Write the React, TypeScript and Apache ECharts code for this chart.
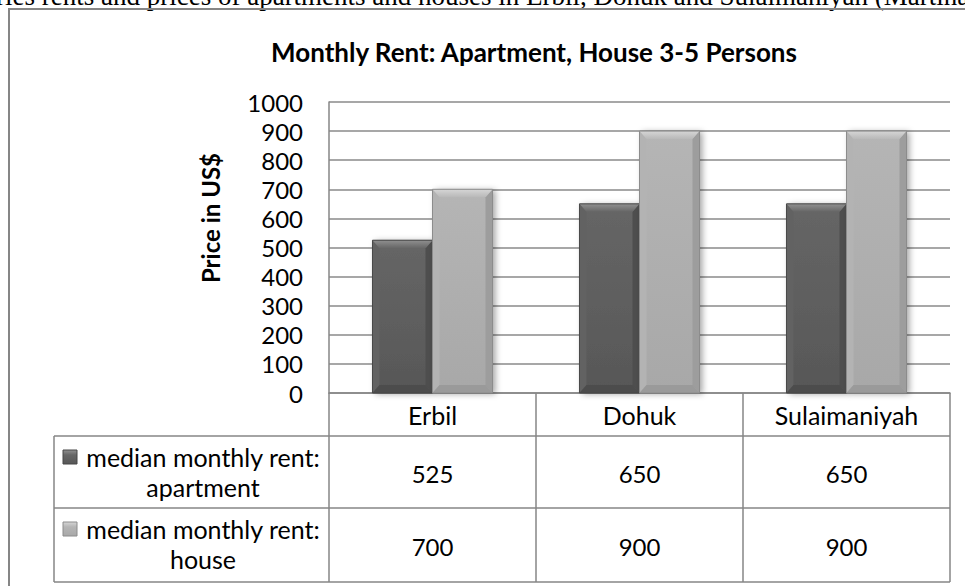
import React, { useEffect, useRef } from "react";
import * as echarts from "echarts";

const categories = ["Erbil", "Dohuk", "Sulaimaniyah"];
const apartmentRent = [525, 650, 650];
const houseRent = [700, 900, 900];
const seriesLabels = [
  ["median monthly rent:", "apartment"],
  ["median monthly rent:", "house"],
];
const yMin = 0;
const yMax = 1000;
const yStep = 100;
const chartTitle = "Monthly Rent: Apartment, House 3-5 Persons";
const yAxisTitle = "Price in US$";
const captionText =
  "ries rents and prices of apartments and houses in Erbil, Dohuk and Sulaimaniyah (Martina";

const FONT = "Lato, 'Noto Sans', sans-serif";
const GRID_L = 329;
const GRID_R = 950;
const GRID_T = 102;
const GRID_B = 393;
const ROW_Y = [436, 508, 582];
const TABLE_L = 54;
const LINE = "#868686";
const TXT = 25;
const NUM = 24;

const palettes = [
  {
    main: ["#666666", "#575757"],
    top: ["#909090", "#666666"],
    bottom: "#4c4c4c",
    left: "#626262",
    right: "#4e4e4e",
    outline: "#474747",
  },
  {
    main: ["#b5b5b5", "#a8a8a8"],
    top: ["#d6d6d6", "#b8b8b8"],
    bottom: "#9a9a9a",
    left: "#b3b3b3",
    right: "#9d9d9d",
    outline: "#8c8c8c",
  },
];

function makeRender(si: number) {
  const p = palettes[si];
  return (params: any, api: any) => {
    const ci = api.value(0);
    const v = api.value(1);
    const top = api.coord([ci, v]);
    const bot = api.coord([ci, 0]);
    const band = api.size([1, 0])[0];
    const bw = band * 0.29;
    const x0 = top[0] - bw + si * bw;
    const x1 = x0 + bw;
    const ty = top[1];
    const by = bot[1];
    const h = by - ty;
    const d = Math.min(8, h / 2);
    const sd = Math.min(7, bw / 4);
    const grad = (a: string, b: string) => ({
      type: "linear",
      x: 0,
      y: 0,
      x2: 0,
      y2: 1,
      colorStops: [
        { offset: 0, color: a },
        { offset: 1, color: b },
      ],
    });
    return {
      type: "group",
      children: [
        {
          type: "rect",
          shape: { x: x0, y: ty, width: bw, height: h },
          style: {
            fill: grad(p.main[0], p.main[1]),
            shadowBlur: 6,
            shadowOffsetX: 3,
            shadowOffsetY: 1,
            shadowColor: "rgba(0,0,0,0.35)",
          },
        },
        {
          type: "polygon",
          shape: {
            points: [
              [x0, ty],
              [x0 + sd, ty + d],
              [x0 + sd, by - d],
              [x0, by],
            ],
          },
          style: { fill: p.left },
        },
        {
          type: "polygon",
          shape: {
            points: [
              [x1, ty],
              [x1 - sd, ty + d],
              [x1 - sd, by - d],
              [x1, by],
            ],
          },
          style: { fill: p.right },
        },
        {
          type: "polygon",
          shape: {
            points: [
              [x0, ty],
              [x1, ty],
              [x1 - sd, ty + d],
              [x0 + sd, ty + d],
            ],
          },
          style: { fill: grad(p.top[0], p.top[1]) },
        },
        {
          type: "polygon",
          shape: {
            points: [
              [x0, by],
              [x1, by],
              [x1 - sd, by - d],
              [x0 + sd, by - d],
            ],
          },
          style: { fill: p.bottom },
        },
        {
          type: "rect",
          shape: { x: x0, y: ty, width: bw, height: h },
          style: { fill: "none", stroke: p.outline, lineWidth: 1 },
        },
      ],
    };
  };
}

function buildGraphic() {
  const els: any[] = [];
  const colW = (GRID_R - GRID_L) / categories.length;
  els.push({
    type: "rect",
    shape: { x: 9, y: 9, width: 1000, height: 1000 },
    style: { fill: "none", stroke: LINE, lineWidth: 2 },
    z: 1,
  });
  els.push({
    type: "text",
    x: -4,
    y: 9,
    style: {
      text: captionText,
      font: "27px 'Liberation Serif', serif",
      fill: "#000",
      align: "left",
      verticalAlign: "bottom",
    },
  });
  els.push({
    type: "text",
    x: 210,
    y: 218,
    rotation: Math.PI / 2,
    style: {
      text: yAxisTitle,
      font: `bold 24px ${FONT}`,
      fill: "#000",
      align: "center",
      verticalAlign: "middle",
    },
  });
  ROW_Y.forEach((y) => {
    els.push({
      type: "line",
      shape: { x1: TABLE_L, y1: y, x2: GRID_R, y2: y },
      style: { stroke: LINE, lineWidth: 1.5 },
    });
  });
  els.push({
    type: "line",
    shape: { x1: TABLE_L, y1: ROW_Y[0], x2: TABLE_L, y2: ROW_Y[2] },
    style: { stroke: LINE, lineWidth: 1.5 },
  });
  for (let i = 0; i <= categories.length; i++) {
    const x = GRID_L + i * colW;
    els.push({
      type: "line",
      shape: { x1: x, y1: GRID_B, x2: x, y2: ROW_Y[2] },
      style: { stroke: LINE, lineWidth: 1.5 },
    });
  }
  const rows = [apartmentRent, houseRent];
  rows.forEach((vals, ri) => {
    const yTop = ROW_Y[ri];
    const yBot = ROW_Y[ri + 1];
    const l1 = yTop + 21;
    const l2 = yTop + 51;
    const p = palettes[ri];
    els.push({
      type: "rect",
      shape: { x: 63, y: l1 - 7, width: 14, height: 14 },
      style: {
        fill: {
          type: "linear",
          x: 0,
          y: 0,
          x2: 0,
          y2: 1,
          colorStops: [
            { offset: 0, color: p.top[0] },
            { offset: 0.35, color: p.main[0] },
            { offset: 1, color: p.main[1] },
          ],
        },
        stroke: p.outline,
        lineWidth: 1,
      },
    });
    els.push({
      type: "text",
      x: 203,
      y: l1,
      style: {
        text: seriesLabels[ri][0],
        font: `${TXT}px ${FONT}`,
        fill: "#000",
        align: "center",
        verticalAlign: "middle",
      },
    });
    els.push({
      type: "text",
      x: 203,
      y: l2,
      style: {
        text: seriesLabels[ri][1],
        font: `${TXT}px ${FONT}`,
        fill: "#000",
        align: "center",
        verticalAlign: "middle",
      },
    });
    vals.forEach((v, ci) => {
      els.push({
        type: "text",
        x: GRID_L + (ci + 0.5) * colW,
        y: (yTop + yBot) / 2 + 1,
        style: {
          text: String(v),
          font: `${NUM}px ${FONT}`,
          fill: "#000",
          align: "center",
          verticalAlign: "middle",
        },
      });
    });
  });
  return els;
}

export default function App() {
  const ref = useRef<HTMLDivElement>(null);
  useEffect(() => {
    if (!ref.current) return;
    const chart = echarts.init(ref.current, undefined, { renderer: "svg" });
    chart.setOption({
      animation: false,
      backgroundColor: "#ffffff",
      title: {
        text: chartTitle,
        left: 534,
        top: 52,
        textAlign: "center",
        textVerticalAlign: "middle",
        padding: 0,
        textStyle: {
          fontFamily: FONT,
          fontWeight: "bold",
          fontSize: 26,
          color: "#000",
        },
      },
      grid: {
        left: GRID_L,
        right: 965 - GRID_R,
        top: GRID_T,
        bottom: 586 - GRID_B,
        containLabel: false,
      },
      xAxis: {
        type: "category",
        data: categories,
        axisLine: { show: true, lineStyle: { color: LINE, width: 1.5 } },
        axisTick: { show: false },
        axisLabel: {
          show: true,
          margin: 22,
          verticalAlign: "middle",
          fontFamily: FONT,
          fontSize: TXT,
          color: "#000",
        },
        splitLine: { show: false },
      },
      yAxis: {
        type: "value",
        min: yMin,
        max: yMax,
        interval: yStep,
        axisLine: { show: true, lineStyle: { color: LINE, width: 1.5 } },
        axisTick: { show: false },
        axisLabel: {
          margin: 26,
          fontFamily: FONT,
          fontSize: NUM,
          color: "#000",
          formatter: (v: number) => String(v),
        },
        splitLine: { show: true, lineStyle: { color: "#8a8a8a", width: 1.5 } },
      },
      series: [
        {
          name: seriesLabels[0].join(" "),
          type: "custom",
          renderItem: makeRender(0),
          encode: { x: 0, y: 1 },
          data: apartmentRent.map((v, i) => [i, v]),
          z: 3,
        },
        {
          name: seriesLabels[1].join(" "),
          type: "custom",
          renderItem: makeRender(1),
          encode: { x: 0, y: 1 },
          data: houseRent.map((v, i) => [i, v]),
          z: 3,
        },
      ],
      graphic: buildGraphic(),
    });
    return () => chart.dispose();
  }, []);
  return (
    <div
      ref={ref}
      style={{
        position: "fixed",
        left: 0,
        top: 0,
        width: 965,
        height: 586,
        background: "#fff",
      }}
    />
  );
}
